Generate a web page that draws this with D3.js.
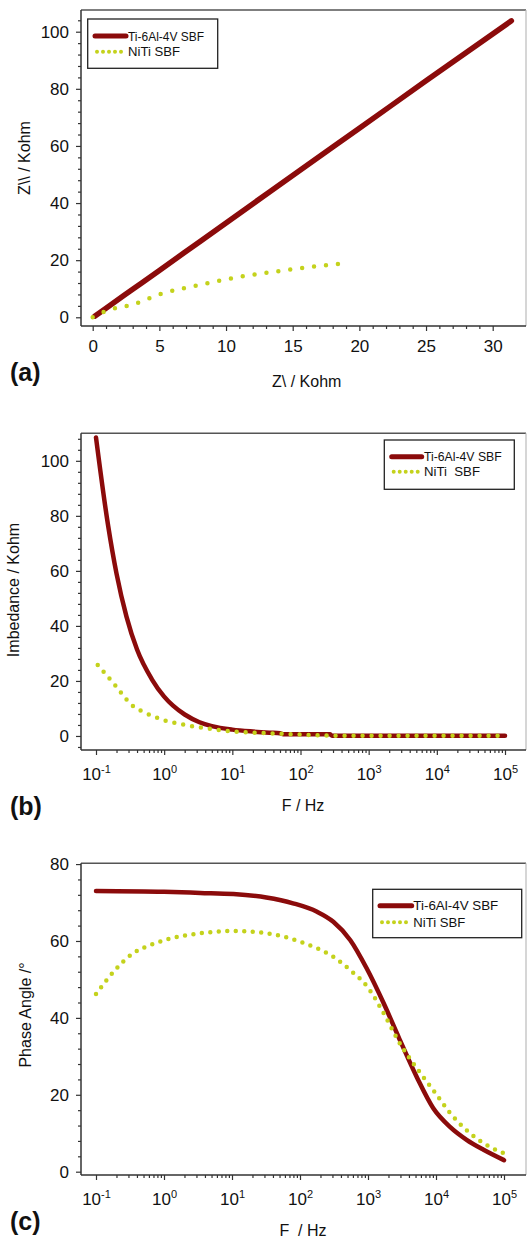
<!DOCTYPE html>
<html><head><meta charset="utf-8">
<script src="https://cdn.jsdelivr.net/npm/d3@7"></script>
<style>
html,body{margin:0;padding:0;background:#fff;}
svg{display:block;font-family:"Liberation Sans",Arial,sans-serif;}
.tick text{font-size:17px;fill:#111;}
</style></head><body>
<svg id="chart" width="528" height="1239"></svg>
<script>
// Series names
const seriesNames = ["Ti-6Al-4V SBF", "NiTi SBF"];
const seriesNamesB = ["Ti-6Al-4V SBF", "NiTi  SBF"];

// (a) Nyquist plot: [Z' (kOhm), Z'' (kOhm)]
const nyquistTi = [[0.15,0.4],[1,3.2],[3,9.8],[5,16.4],[8,26.4],[12,39.7],[16,53],[20,66.2],[25,82.8],[31.4,103.8]];
const nyquistNiTi = [[0,0],[0.6,1.4],[1.5,2.9],[3,4.5],[5,8.0],[8,11.3],[10.8,14.0],[14.3,16.4],[16.5,17.7],[18.5,18.7]];

// (b) impedance modulus vs frequency: [f (Hz), |Z| (kOhm)]
const bodeZTi = [[0.1,108.5],[0.15,76.7],[0.2,59],[0.28,43.4],[0.4,31.4],[0.66,20.6],[1,14.3],[1.35,11],[2,7.8],[3.3,5.0],[5,3.6],[10,2.3],[20,1.6],[35,1.2],[50,1.0],[56,0.6],[270,0.6],[290,0.1],[100000,0.1]];
const bodeZNiTi = [[0.106,25.8],[0.19,18.5],[0.333,11.3],[0.553,8.2],[0.92,6.0],[1.7,4.4],[3.16,3.2],[6.2,2.2],[12.8,1.45],[32,1.0],[100,0.5],[310,0.1],[100000,0.05]];

// (c) phase angle vs frequency: [f (Hz), phase (deg)]
const phaseTi = [[0.1,73.0],[1,72.8],[3.4,72.5],[10.5,72.2],[32,71.3],[79,69.8],[178,67.6],[309,65.0],[550,60.2],[955,52.9],[1700,43.8],[2820,35.0],[5250,24.5],[9120,16.5],[16200,11.6],[28200,8.3],[50000,5.7],[100000,3.0]];
const phaseNiTi = [[0.1,46.2],[0.19,52.4],[0.35,56.8],[0.62,58.9],[1.1,60.4],[3.4,62.0],[10.5,62.6],[32,62.0],[58,61.1],[100,59.8],[178,58.1],[309,55.9],[550,52.4],[977,48.1],[1700,41.2],[2800,34.0],[6460,24.7],[9300,21.0],[16200,15.2],[28200,10.8],[50000,7.4],[100000,4.8]];

// Tick values
const ticksZre = [0,5,10,15,20,25,30];
const ticksZ = [0,20,40,60,80,100];
const ticksPhase = [0,20,40,60,80];
const decadeExps = [-1,0,1,2,3,4,5];

const colTi = "#8b0b0b";
const colNiTi = "#c4d21c";
const axisCol = "#333";

const svg = d3.select("#chart");

function styleAxis(g){
  g.select(".domain").attr("stroke", axisCol).attr("stroke-width", 1.5);
  g.selectAll(".tick line").attr("stroke", axisCol).attr("stroke-width", 1.2);
}

function drawPanel(cfg){
  const g = svg.append("g");
  const [L, R, T, B] = cfg.box;
  const x = cfg.xLog ? d3.scaleLog().domain(cfg.xDomain).range([cfg.xRange[0], cfg.xRange[1]])
                     : d3.scaleLinear().domain(cfg.xDomain).range([cfg.xRange[0], cfg.xRange[1]]);
  const y = d3.scaleLinear().domain(cfg.yDomain).range([B, T]);

  // frame: top and right edges
  g.append("line").attr("x1", L).attr("x2", R).attr("y1", T).attr("y2", T)
    .attr("stroke", "#555").attr("stroke-width", 1.5);
  g.append("line").attr("x1", R).attr("x2", R).attr("y1", T).attr("y2", B)
    .attr("stroke", "#bbb").attr("stroke-width", 1.2);

  // minor y ticks
  const yMinor = d3.range(Math.ceil(cfg.yDomain[0]/4)*4, cfg.yDomain[1], 4).filter(v => v % 20 !== 0);
  g.append("g").attr("transform", `translate(${L},0)`)
    .call(d3.axisLeft(y).tickValues(yMinor).tickSize(3).tickFormat(""))
    .call(a => { styleAxis(a); a.select(".domain").remove(); });
  // major y ticks
  g.append("g").attr("transform", `translate(${L},0)`)
    .call(d3.axisLeft(y).tickValues(cfg.yTicks).tickSize(5).tickPadding(7).tickSizeOuter(0))
    .call(styleAxis)
    .call(a => a.select(".domain").attr("d", `M0,${T}V${B}`));

  // x axis
  if (cfg.xLog){
    const minors = [];
    decadeExps.forEach(e => { if (e < 5) for (let k = 2; k <= 9; k++) minors.push(k*Math.pow(10,e)); });
    g.append("g").attr("transform", `translate(0,${B})`)
      .call(d3.axisBottom(x).tickValues(minors).tickSize(3).tickFormat(""))
      .call(a => { styleAxis(a); a.select(".domain").remove(); });
    const ax = g.append("g").attr("transform", `translate(0,${B})`)
      .call(d3.axisBottom(x).tickValues(decadeExps.map(e => Math.pow(10,e))).tickSize(5).tickFormat(() => "").tickSizeOuter(0))
      .call(styleAxis)
      .call(a => a.select(".domain").attr("d", `M${L},0H${R}`));
    ax.selectAll(".tick").each(function(d){
      const e = Math.round(Math.log10(d));
      const t = d3.select(this).append("text").attr("y", cfg.xLabelDy).attr("text-anchor", "middle")
        .attr("fill", "#111").style("font-size", "17px");
      t.append("tspan").text("10");
      t.append("tspan").attr("dy", -7).style("font-size", "11px").text(e < 0 ? "-" + (-e) : String(e));
    });
  } else {
    const xMinor = d3.range(0, cfg.xDomain[1], 1).filter(v => v % 5 !== 0);
    g.append("g").attr("transform", `translate(0,${B})`)
      .call(d3.axisBottom(x).tickValues(xMinor).tickSize(3).tickFormat(""))
      .call(a => { styleAxis(a); a.select(".domain").remove(); });
    g.append("g").attr("transform", `translate(0,${B})`)
      .call(d3.axisBottom(x).tickValues(cfg.xTicks).tickSize(5).tickPadding(9).tickSizeOuter(0))
      .call(styleAxis)
      .call(a => a.select(".domain").attr("d", `M${L},0H${R}`));
  }

  const line = d3.line().x(d => x(d[0])).y(d => y(d[1])).curve(d3.curveMonotoneX);
  g.append("path").datum(cfg.ti).attr("d", line).attr("fill", "none")
    .attr("stroke", colTi).attr("stroke-width", cfg.tiWidth).attr("stroke-linejoin", "round").attr("stroke-linecap", "round");
  g.append("path").datum(cfg.niti).attr("d", line).attr("fill", "none")
    .attr("stroke", colNiTi).attr("stroke-width", 4.5).attr("stroke-linecap", "round")
    .attr("stroke-dasharray", `0 ${cfg.dotGap}`);

  // legend
  const lg = cfg.legend;
  g.append("rect").attr("x", lg.x0).attr("y", lg.y0).attr("width", lg.x1 - lg.x0).attr("height", lg.y1 - lg.y0)
    .attr("fill", "#fff").attr("stroke", "#222").attr("stroke-width", 1.3);
  g.append("line").attr("x1", lg.lx0).attr("x2", lg.lx1).attr("y1", lg.ly[0]).attr("y2", lg.ly[0])
    .attr("stroke", colTi).attr("stroke-width", 5).attr("stroke-linecap", "round");
  g.append("line").attr("x1", lg.lx0 + 2).attr("x2", lg.lx1).attr("y1", lg.ly[1]).attr("y2", lg.ly[1])
    .attr("stroke", colNiTi).attr("stroke-width", 4).attr("stroke-linecap", "round").attr("stroke-dasharray", "0 6");
  lg.names.forEach((n, i) => {
    g.append("text").attr("x", lg.tx).attr("y", lg.ly[i]).attr("dy", "0.36em")
      .attr("textLength", lg.tw[i]).attr("lengthAdjust", "spacingAndGlyphs")
      .style("font-size", "13px").style("white-space", "pre").attr("fill", "#111").text(n);
  });

  // axis titles
  g.append("text").attr("transform", `translate(${cfg.yTitle[0]},${cfg.yTitle[1]}) rotate(-90)`)
    .attr("text-anchor", "middle").attr("dy", "0.35em").style("font-size", "16px").attr("fill", "#111").text(cfg.yTitle[2]);
  g.append("text").attr("x", cfg.xTitle[0]).attr("y", cfg.xTitle[1]).attr("dy", "0.35em")
    .attr("text-anchor", "middle").style("font-size", "16px").style("white-space", "pre").attr("fill", "#111").text(cfg.xTitle[2]);
  // panel letter
  g.append("text").attr("x", 10).attr("y", cfg.letterY).style("font-size", "25px").style("font-weight", "bold")
    .attr("fill", "#111").text(cfg.letter);
}

drawPanel({
  box: [81, 526, 10, 326],
  xLog: false, xDomain: [0, 30], xRange: [92.7, 492.7], xTicks: ticksZre,
  yDomain: [-3.05, 107.6], yTicks: ticksZ,
  ti: nyquistTi, niti: nyquistNiTi, tiWidth: 5.5, dotGap: 12,
  legend: {x0: 87.7, x1: 217.7, y0: 19, y1: 68.3, lx0: 95, lx1: 126, ly: [36, 51.7], tx: 128, tw: [76, 52], names: seriesNames},
  yTitle: [24, 158, "Z\\\\ / Kohm"], xTitle: [306.7, 381.7, "Z\\ / Kohm"],
  letter: "(a)", letterY: 381
});

drawPanel({
  box: [81, 526, 433.3, 750],
  xLog: true, xDomain: [0.1, 100000], xRange: [96, 505], xLabelDy: 30,
  yDomain: [-5.1, 110], yTicks: ticksZ,
  ti: bodeZTi, niti: bodeZNiTi, tiWidth: 4.5, dotGap: 9,
  legend: {x0: 384.3, x1: 514.3, y0: 440, y1: 489.3, lx0: 391.7, lx1: 421.7, ly: [456.7, 471.7], tx: 424, tw: [77.7, 56], names: seriesNamesB},
  yTitle: [13, 590, "Imbedance / Kohm"], xTitle: [303, 805, "F / Hz"],
  letter: "(b)", letterY: 815
});

drawPanel({
  box: [81, 526, 863.3, 1175],
  xLog: true, xDomain: [0.1, 100000], xRange: [96, 504], xLabelDy: 30,
  yDomain: [-0.86, 80.2], yTicks: ticksPhase,
  ti: phaseTi, niti: phaseNiTi, tiWidth: 4.5, dotGap: 8.5,
  legend: {x0: 372.7, x1: 521.7, y0: 889.3, y1: 937.7, lx0: 380, lx1: 411.7, ly: [905.7, 922.3], tx: 413.3, tw: [85, 52], names: seriesNames},
  yTitle: [25, 1015, "Phase Angle /\u00B0"], xTitle: [303, 1230, "F  / Hz"],
  letter: "(c)", letterY: 1230
});
</script>
</body></html>
